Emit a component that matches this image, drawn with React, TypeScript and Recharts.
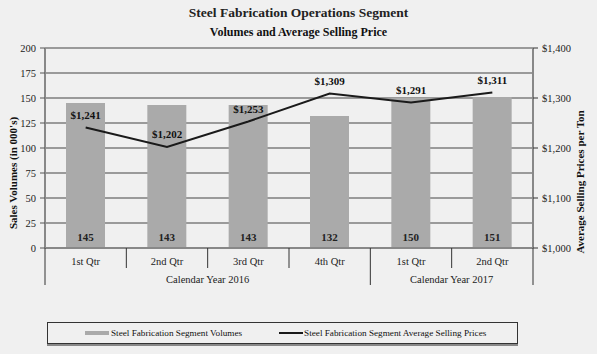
import {
  ComposedChart,
  Bar,
  Line,
  XAxis,
  YAxis,
  CartesianGrid,
  LabelList,
} from 'recharts';

const quarters = ['1st Qtr', '2nd Qtr', '3rd Qtr', '4th Qtr', '1st Qtr', '2nd Qtr'];
const years = ['2016', '2016', '2016', '2016', '2017', '2017'];
const volumes = [145, 143, 143, 132, 150, 151];
const prices = [1241, 1202, 1253, 1309, 1291, 1311];
const volumeTicks = [0, 25, 50, 75, 100, 125, 150, 175, 200];
const priceTicks = [1000, 1100, 1200, 1300, 1400];

const data = quarters.map((q, i) => ({
  idx: i,
  quarter: q,
  year: years[i],
  volume: volumes[i],
  price: prices[i],
}));

const W = 597;
const H = 354;
const LEFT_W = 45;
const RIGHT_W = 64;
const BAND = (W - LEFT_W - RIGHT_W) / quarters.length;
const FONT = '"Liberation Serif", "Times New Roman", serif';

const money = (v: number) => '$' + v.toLocaleString('en-US');

const QuarterTick = (props: any) => {
  const { x, y, index } = props;
  const left = x - BAND / 2;
  const yr = years[index];
  const groupStart = index === 0 || years[index - 1] !== yr;
  const groupSize = years.filter((v) => v === yr).length;
  const isLast = index === years.length - 1;
  return (
    <g>
      <line x1={left} x2={left} y1={y} y2={groupStart ? y + 37 : y + 20} stroke="#333" />
      {isLast && <line x1={left + BAND} x2={left + BAND} y1={y} y2={y + 37} stroke="#333" />}
      <text x={x} y={y + 17} textAnchor="middle" fontSize={10.5} fill="#222" fontFamily={FONT}>
        {quarters[index]}
      </text>
      {groupStart && (
        <text
          x={left + (groupSize * BAND) / 2}
          y={y + 35}
          textAnchor="middle"
          fontSize={10.5}
          fill="#222"
          fontFamily={FONT}
        >
          {'Calendar Year ' + yr}
        </text>
      )}
    </g>
  );
};

const axisTitle = (text: string, dx: number, dy: number, angle: number) => (props: any) => {
  const vb = props.viewBox;
  const cx = vb.x + dx;
  const cy = vb.y + vb.height / 2 + dy;
  return (
    <text
      x={cx}
      y={cy}
      transform={`rotate(${angle}, ${cx}, ${cy})`}
      textAnchor="middle"
      dominantBaseline="central"
      fontSize={11}
      fontWeight="bold"
      fill="#111"
      fontFamily={FONT}
    >
      {text}
    </text>
  );
};

export default function App() {
  return (
    <div
      style={{
        position: 'absolute',
        left: 0,
        top: 0,
        width: W,
        height: H,
        background: '#f0f0f0',
        fontFamily: FONT,
      }}
    >
      <div
        style={{
          position: 'absolute',
          top: 5,
          width: W,
          textAlign: 'center',
          fontSize: 13.5,
          lineHeight: '16px',
          fontWeight: 'bold',
          color: '#222',
        }}
      >
        Steel Fabrication Operations Segment
      </div>
      <div
        style={{
          position: 'absolute',
          top: 25,
          width: W,
          textAlign: 'center',
          fontSize: 12,
          lineHeight: '14px',
          fontWeight: 'bold',
          color: '#111',
        }}
      >
        Volumes and Average Selling Price
      </div>

      <ComposedChart
        width={W}
        height={H}
        data={data}
        margin={{ top: 48, right: 0, bottom: 0, left: 0 }}
        barCategoryGap={0}
      >
        <CartesianGrid yAxisId="vol" vertical={false} stroke="#444" />
        <XAxis
          dataKey="idx"
          height={H - 248}
          tick={<QuarterTick />}
          tickLine={false}
          tickSize={0}
          tickMargin={0}
          axisLine={{ stroke: '#888', strokeWidth: 2 }}
          interval={0}
        />
        <YAxis
          yAxisId="vol"
          orientation="left"
          width={LEFT_W}
          domain={[0, 200]}
          ticks={volumeTicks}
          interval={0}
          tickSize={5}
          tickMargin={4}
          tick={{ fontSize: 10.5, fill: '#222', fontFamily: FONT }}
          tickLine={{ stroke: '#555' }}
          axisLine={{ stroke: '#888', strokeWidth: 2 }}
          label={{ content: axisTitle("Sales Volumes (in 000's)", 13, 25, -90) }}
        />
        <YAxis
          yAxisId="price"
          orientation="right"
          width={RIGHT_W}
          domain={[1000, 1400]}
          ticks={priceTicks}
          interval={0}
          tickSize={5}
          tickMargin={4}
          tickFormatter={money}
          tick={{ fontSize: 10.5, fill: '#222', fontFamily: FONT }}
          tickLine={{ stroke: '#333' }}
          axisLine={{ stroke: '#888', strokeWidth: 2 }}
          label={{ content: axisTitle('Average Selling Prices per Ton', 47, 34, -90) }}
        />
        <Bar yAxisId="vol" dataKey="volume" fill="#aaaaaa" barSize={39} isAnimationActive={false}>
          <LabelList
            dataKey="volume"
            position="insideBottom"
            offset={7}
            fontSize={11}
            fontWeight="bold"
            fill="#222"
            fontFamily={FONT}
          />
        </Bar>
        <Line
          yAxisId="price"
          type="linear"
          dataKey="price"
          stroke="#1a1a1a"
          strokeWidth={2}
          dot={false}
          isAnimationActive={false}
        >
          <LabelList
            dataKey="price"
            position="top"
            offset={9}
            formatter={(v: any) => money(Number(v))}
            fontSize={11}
            fontWeight="bold"
            fill="#111"
            fontFamily={FONT}
          />
        </Line>
      </ComposedChart>

      <div
        style={{
          position: 'absolute',
          left: 47,
          top: 322,
          width: 469,
          height: 20,
          border: '1px solid #333',
          boxShadow: '0 2px 0 #888',
          display: 'flex',
          alignItems: 'center',
          fontSize: 9.2,
          color: '#111',
        }}
      >
        <span style={{ marginLeft: 37, width: 24, height: 4, background: '#aaaaaa', display: 'inline-block' }} />
        <span style={{ marginLeft: 2 }}>Steel Fabrication Segment Volumes</span>
        <span style={{ marginLeft: 37, width: 24, height: 2, background: '#1a1a1a', display: 'inline-block' }} />
        <span style={{ marginLeft: 1 }}>Steel Fabrication Segment Average Selling Prices</span>
      </div>
    </div>
  );
}
